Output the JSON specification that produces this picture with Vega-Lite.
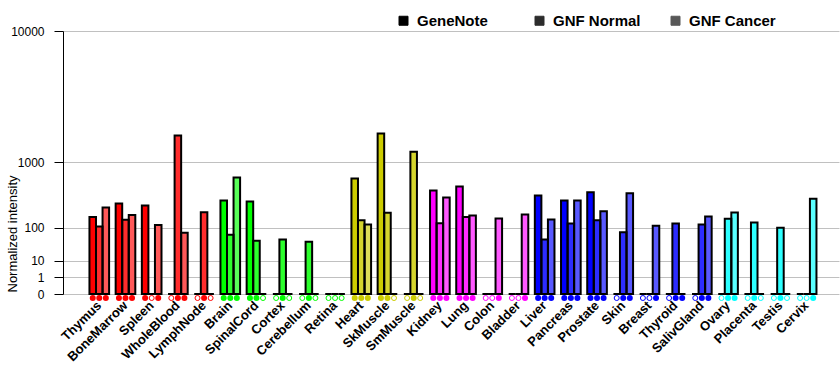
{
  "$schema": "https://vega.github.io/schema/vega-lite/v6.json",
  "width": 776,
  "height": 263,
  "autosize": {"type": "none"},
  "padding": {"left": 63, "top": 31, "right": 1, "bottom": 91},
  "background": "white",
  "config": {"view": {"stroke": null}, "font": "Liberation Sans"},
  "data": {"values": [
    {"tissue": "Thymus", "system": "Immune", "series": "GeneNote", "value": 166, "call": "P"},
    {"tissue": "Thymus", "system": "Immune", "series": "GNF Normal", "value": 107, "call": "P"},
    {"tissue": "Thymus", "system": "Immune", "series": "GNF Cancer", "value": 245, "call": "P"},
    {"tissue": "BoneMarrow", "system": "Immune", "series": "GeneNote", "value": 285, "call": "P"},
    {"tissue": "BoneMarrow", "system": "Immune", "series": "GNF Normal", "value": 147, "call": "P"},
    {"tissue": "BoneMarrow", "system": "Immune", "series": "GNF Cancer", "value": 182, "call": "P"},
    {"tissue": "Spleen", "system": "Immune", "series": "GeneNote", "value": 264, "call": "P"},
    {"tissue": "Spleen", "system": "Immune", "series": "GNF Normal", "value": 0, "call": "A"},
    {"tissue": "Spleen", "system": "Immune", "series": "GNF Cancer", "value": 116, "call": "P"},
    {"tissue": "WholeBlood", "system": "Immune", "series": "GeneNote", "value": 0, "call": "A"},
    {"tissue": "WholeBlood", "system": "Immune", "series": "GNF Normal", "value": 1850, "call": "P"},
    {"tissue": "WholeBlood", "system": "Immune", "series": "GNF Cancer", "value": 78, "call": "P"},
    {"tissue": "LymphNode", "system": "Immune", "series": "GeneNote", "value": 0, "call": "A"},
    {"tissue": "LymphNode", "system": "Immune", "series": "GNF Normal", "value": 204, "call": "P"},
    {"tissue": "LymphNode", "system": "Immune", "series": "GNF Cancer", "value": 0, "call": "A"},
    {"tissue": "Brain", "system": "Nervous", "series": "GeneNote", "value": 318, "call": "P"},
    {"tissue": "Brain", "system": "Nervous", "series": "GNF Normal", "value": 70, "call": "P"},
    {"tissue": "Brain", "system": "Nervous", "series": "GNF Cancer", "value": 662, "call": "P"},
    {"tissue": "SpinalCord", "system": "Nervous", "series": "GeneNote", "value": 306, "call": "P"},
    {"tissue": "SpinalCord", "system": "Nervous", "series": "GNF Normal", "value": 49, "call": "P"},
    {"tissue": "SpinalCord", "system": "Nervous", "series": "GNF Cancer", "value": 0, "call": "A"},
    {"tissue": "Cortex", "system": "Nervous", "series": "GeneNote", "value": 0, "call": "A"},
    {"tissue": "Cortex", "system": "Nervous", "series": "GNF Normal", "value": 53, "call": "P"},
    {"tissue": "Cortex", "system": "Nervous", "series": "GNF Cancer", "value": 0, "call": "A"},
    {"tissue": "Cerebellum", "system": "Nervous", "series": "GeneNote", "value": 0, "call": "A"},
    {"tissue": "Cerebellum", "system": "Nervous", "series": "GNF Normal", "value": 46, "call": "P"},
    {"tissue": "Cerebellum", "system": "Nervous", "series": "GNF Cancer", "value": 0, "call": "A"},
    {"tissue": "Retina", "system": "Nervous", "series": "GeneNote", "value": 0, "call": "A"},
    {"tissue": "Retina", "system": "Nervous", "series": "GNF Normal", "value": 0, "call": "A"},
    {"tissue": "Retina", "system": "Nervous", "series": "GNF Cancer", "value": 0, "call": "A"},
    {"tissue": "Heart", "system": "Muscle", "series": "GeneNote", "value": 643, "call": "P"},
    {"tissue": "Heart", "system": "Muscle", "series": "GNF Normal", "value": 144, "call": "P"},
    {"tissue": "Heart", "system": "Muscle", "series": "GNF Cancer", "value": 118, "call": "P"},
    {"tissue": "SkMuscle", "system": "Muscle", "series": "GeneNote", "value": 1929, "call": "P"},
    {"tissue": "SkMuscle", "system": "Muscle", "series": "GNF Normal", "value": 200, "call": "P"},
    {"tissue": "SkMuscle", "system": "Muscle", "series": "GNF Cancer", "value": 0, "call": "A"},
    {"tissue": "SmMuscle", "system": "Muscle", "series": "GeneNote", "value": 0, "call": "A"},
    {"tissue": "SmMuscle", "system": "Muscle", "series": "GNF Normal", "value": 1290, "call": "P"},
    {"tissue": "SmMuscle", "system": "Muscle", "series": "GNF Cancer", "value": 0, "call": "A"},
    {"tissue": "Kidney", "system": "Visceral", "series": "GeneNote", "value": 446, "call": "P"},
    {"tissue": "Kidney", "system": "Visceral", "series": "GNF Normal", "value": 126, "call": "P"},
    {"tissue": "Kidney", "system": "Visceral", "series": "GNF Cancer", "value": 353, "call": "P"},
    {"tissue": "Lung", "system": "Visceral", "series": "GeneNote", "value": 506, "call": "P"},
    {"tissue": "Lung", "system": "Visceral", "series": "GNF Normal", "value": 167, "call": "P"},
    {"tissue": "Lung", "system": "Visceral", "series": "GNF Cancer", "value": 177, "call": "P"},
    {"tissue": "Colon", "system": "Visceral", "series": "GeneNote", "value": 0, "call": "A"},
    {"tissue": "Colon", "system": "Visceral", "series": "GNF Normal", "value": 0, "call": "A"},
    {"tissue": "Colon", "system": "Visceral", "series": "GNF Cancer", "value": 156, "call": "P"},
    {"tissue": "Bladder", "system": "Visceral", "series": "GeneNote", "value": 0, "call": "A"},
    {"tissue": "Bladder", "system": "Visceral", "series": "GNF Normal", "value": 0, "call": "A"},
    {"tissue": "Bladder", "system": "Visceral", "series": "GNF Cancer", "value": 185, "call": "P"},
    {"tissue": "Liver", "system": "Glandular", "series": "GeneNote", "value": 378, "call": "P"},
    {"tissue": "Liver", "system": "Glandular", "series": "GNF Normal", "value": 53, "call": "P"},
    {"tissue": "Liver", "system": "Glandular", "series": "GNF Cancer", "value": 149, "call": "P"},
    {"tissue": "Pancreas", "system": "Glandular", "series": "GeneNote", "value": 318, "call": "P"},
    {"tissue": "Pancreas", "system": "Glandular", "series": "GNF Normal", "value": 124, "call": "P"},
    {"tissue": "Pancreas", "system": "Glandular", "series": "GNF Cancer", "value": 318, "call": "P"},
    {"tissue": "Prostate", "system": "Glandular", "series": "GeneNote", "value": 423, "call": "P"},
    {"tissue": "Prostate", "system": "Glandular", "series": "GNF Normal", "value": 144, "call": "P"},
    {"tissue": "Prostate", "system": "Glandular", "series": "GNF Cancer", "value": 212, "call": "P"},
    {"tissue": "Skin", "system": "Glandular", "series": "GeneNote", "value": 0, "call": "A"},
    {"tissue": "Skin", "system": "Glandular", "series": "GNF Normal", "value": 80, "call": "P"},
    {"tissue": "Skin", "system": "Glandular", "series": "GNF Cancer", "value": 408, "call": "P"},
    {"tissue": "Breast", "system": "Glandular", "series": "GeneNote", "value": 0, "call": "A"},
    {"tissue": "Breast", "system": "Glandular", "series": "GNF Normal", "value": 0, "call": "A"},
    {"tissue": "Breast", "system": "Glandular", "series": "GNF Cancer", "value": 112, "call": "P"},
    {"tissue": "Thyroid", "system": "Glandular", "series": "GeneNote", "value": 0, "call": "A"},
    {"tissue": "Thyroid", "system": "Glandular", "series": "GNF Normal", "value": 124, "call": "P"},
    {"tissue": "Thyroid", "system": "Glandular", "series": "GNF Cancer", "value": 0, "call": "P"},
    {"tissue": "SalivGland", "system": "Glandular", "series": "GeneNote", "value": 0, "call": "A"},
    {"tissue": "SalivGland", "system": "Glandular", "series": "GNF Normal", "value": 118, "call": "P"},
    {"tissue": "SalivGland", "system": "Glandular", "series": "GNF Cancer", "value": 170, "call": "P"},
    {"tissue": "Ovary", "system": "Reproductive", "series": "GeneNote", "value": 0, "call": "A"},
    {"tissue": "Ovary", "system": "Reproductive", "series": "GNF Normal", "value": 155, "call": "P"},
    {"tissue": "Ovary", "system": "Reproductive", "series": "GNF Cancer", "value": 202, "call": "P"},
    {"tissue": "Placenta", "system": "Reproductive", "series": "GeneNote", "value": 0, "call": "A"},
    {"tissue": "Placenta", "system": "Reproductive", "series": "GNF Normal", "value": 130, "call": "P"},
    {"tissue": "Placenta", "system": "Reproductive", "series": "GNF Cancer", "value": 0, "call": "A"},
    {"tissue": "Testis", "system": "Reproductive", "series": "GeneNote", "value": 0, "call": "A"},
    {"tissue": "Testis", "system": "Reproductive", "series": "GNF Normal", "value": 101, "call": "P"},
    {"tissue": "Testis", "system": "Reproductive", "series": "GNF Cancer", "value": 0, "call": "A"},
    {"tissue": "Cervix", "system": "Reproductive", "series": "GeneNote", "value": 0, "call": "A"},
    {"tissue": "Cervix", "system": "Reproductive", "series": "GNF Normal", "value": 0, "call": "A"},
    {"tissue": "Cervix", "system": "Reproductive", "series": "GNF Cancer", "value": 338, "call": "P"}
  ]},
  "encoding": {
    "x": {
      "field": "tissue", "type": "nominal",
      "sort": ["Thymus","BoneMarrow","Spleen","WholeBlood","LymphNode","Brain","SpinalCord","Cortex","Cerebellum","Retina","Heart","SkMuscle","SmMuscle","Kidney","Lung","Colon","Bladder","Liver","Pancreas","Prostate","Skin","Breast","Thyroid","SalivGland","Ovary","Placenta","Testis","Cervix"],
      "scale": {"paddingInner": 0.25, "paddingOuter": 0.935, "align": 0.54},
      "axis": {"title": null, "domain": false, "ticks": false, "grid": false, "labelAngle": -45, "labelAlign": "right", "labelBaseline": "middle", "labelFont": "Liberation Sans", "labelFontWeight": "bold", "labelFontSize": 13, "labelColor": "black", "labelPadding": 9}
    },
    "xOffset": {"field": "series", "type": "nominal", "sort": ["GeneNote", "GNF Normal", "GNF Cancer"], "scale": {"paddingInner": 0, "paddingOuter": 0}},
    "y": {
      "field": "value", "type": "quantitative",
      "scale": {"type": "pow", "exponent": 0.3, "domain": [0, 10000], "nice": false},
      "axis": {"values": [0, 1, 10, 100, 1000, 10000], "format": "d", "title": "Normalized intensity", "titleFont": "Liberation Sans", "titleFontWeight": "normal", "titleFontSize": 13, "titleColor": "black", "titleAngle": -90, "titleX": -44, "titleY": 261, "titleAlign": "left", "titleBaseline": "bottom", "labelFont": "Liberation Sans", "labelFontSize": 12, "labelColor": "black", "labelPadding": 10, "tickSize": 9, "tickColor": "black", "domainColor": "black", "gridColor": "#c0c0c0", "grid": true}
    },
    "color": {"field": "system", "type": "nominal", "scale": {"domain": ["Immune","Nervous","Muscle","Visceral","Glandular","Reproductive"], "range": ["#ff0000","#00ff00","#cccc00","#ff00ff","#0000ff","#00ffff"]}, "legend": null},
    "opacity": {
      "field": "series", "type": "nominal",
      "scale": {"domain": ["GeneNote", "GNF Normal", "GNF Cancer"], "range": [1, 0.65, 0.5]},
      "legend": {"orient": "none", "legendX": 333, "legendY": -18, "direction": "horizontal", "title": null, "symbolType": "square", "symbolSize": 81, "symbolFillColor": "black", "symbolStrokeColor": "black", "symbolStrokeWidth": 1, "labelFont": "Liberation Sans", "labelFontWeight": "bold", "labelFontSize": 15, "labelColor": "black", "labelOffset": 6, "columnPadding": 27, "gridAlign": "all"}
    }
  },
  "layer": [
    {
      "mark": {"type": "bar", "strokeWidth": 0},
      "encoding": {"color": {"value": "white"}, "opacity": {"value": 1}}
    },
    {
      "mark": {"type": "bar", "strokeWidth": 0}
    },
    {
      "mark": {"type": "bar", "stroke": "black", "strokeWidth": 2, "fillOpacity": 0},
      "encoding": {"opacity": {"value": 1}}
    },
    {
      "transform": [{"filter": "datum.call === 'P'"}],
      "mark": {"type": "point", "filled": true, "shape": "circle", "size": 36, "yOffset": 4},
      "encoding": {"y": {"datum": 0, "type": "quantitative"}, "opacity": {"value": 1}}
    },
    {
      "transform": [{"filter": "datum.call === 'A'"}],
      "mark": {"type": "point", "filled": false, "shape": "circle", "size": 25, "strokeWidth": 1, "yOffset": 4},
      "encoding": {"y": {"datum": 0, "type": "quantitative"}, "opacity": {"value": 1}}
    }
  ]
}
